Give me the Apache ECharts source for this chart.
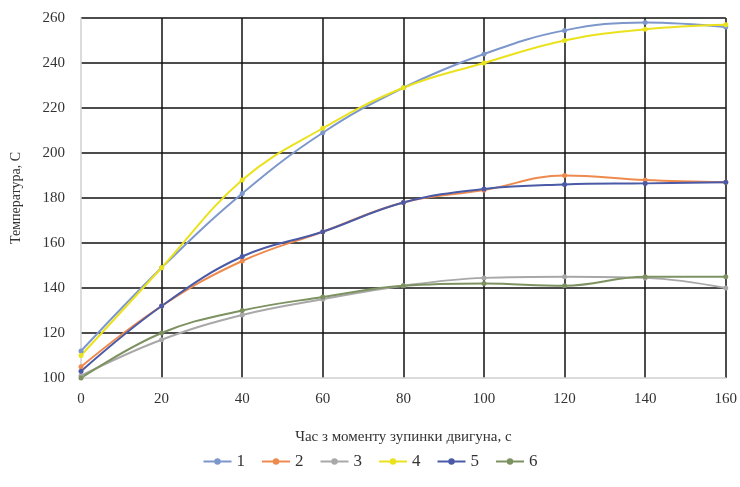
<!DOCTYPE html>
<html><head><meta charset="utf-8">
<script src="https://cdn.jsdelivr.net/npm/echarts@6/dist/echarts.min.js"></script>
<style>html,body{margin:0;padding:0;background:#fff}#c{width:740px;height:487px}</style>
</head><body><div id="c"></div>
<script>
const xValues = [0, 20, 40, 60, 80, 100, 120, 140, 160];
const seriesNames = ['1', '2', '3', '4', '5', '6'];
const s1 = [112, 149, 182, 209, 229, 244, 254.5, 258, 256];
const s2 = [105, 132, 152, 165, 178, 183.5, 190, 188, 187];
const s3 = [101, 117, 128, 135, 141, 144.5, 145, 144.5, 140];
const s4 = [110, 149, 188, 211, 229, 240, 250, 255, 257];
const s5 = [103, 132, 154, 165, 178, 184, 186, 186.5, 187];
const s6 = [100, 120, 130, 136, 141, 142, 141, 145, 145];
const colors = ['#7d97cc', '#ee8a4e', '#a8a8a8', '#eae21c', '#4a5aa6', '#7d9260'];
const allData = [s1, s2, s3, s4, s5, s6];

const chart = echarts.init(document.getElementById('c'));
const font = 'Liberation Serif';
chart.setOption({
  animation: false,
  grid: {left: 81, right: 11, top: 18, bottom: 109},
  xAxis: {
    type: 'value', min: 0, max: 160, interval: 20,
    name: 'Час з моменту зупинки двигуна, с', nameLocation: 'middle', nameGap: 52,
    nameTextStyle: {fontFamily: font, fontSize: 15, color: '#333'},
    axisLine: {show: true, lineStyle: {color: '#d0d0d0', width: 1.5}},
    axisTick: {show: false},
    axisLabel: {fontFamily: font, fontSize: 15, color: '#333', margin: 14},
    splitLine: {show: true, showMinLine: false, lineStyle: {color: '#111', width: 1.5}}
  },
  yAxis: {
    type: 'value', min: 100, max: 260, interval: 20,
    name: 'Температура, С', nameLocation: 'middle', nameGap: 58,
    nameTextStyle: {fontFamily: font, fontSize: 14, color: '#333'},
    axisLine: {show: true, lineStyle: {color: '#d0d0d0', width: 1.5}},
    axisTick: {show: false},
    axisLabel: {fontFamily: font, fontSize: 15, color: '#333', margin: 16},
    splitLine: {show: true, showMinLine: false, lineStyle: {color: '#111', width: 1.5}}
  },
  legend: {
    bottom: 12, left: 'center', itemGap: 16, itemWidth: 28, itemHeight: 8,
    textStyle: {fontFamily: font, fontSize: 17, color: '#333'},
    data: seriesNames
  },
  series: seriesNames.map((n, i) => ({
    name: n, type: 'line', smooth: 0.4,
    data: xValues.map((x, j) => [x, allData[i][j]]),
    color: colors[i],
    symbol: 'circle', symbolSize: 5,
    lineStyle: {width: 2, color: colors[i]},
    itemStyle: {color: colors[i]}
  }))
});
</script></body></html>
